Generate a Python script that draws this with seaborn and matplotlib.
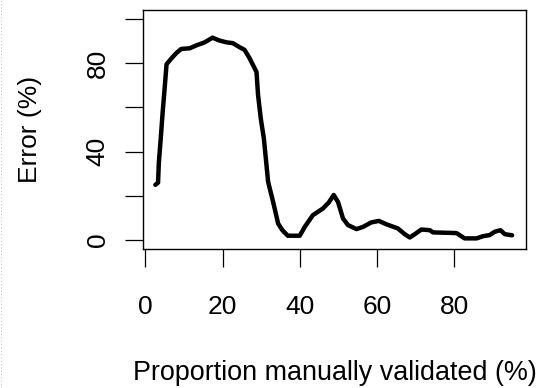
import numpy as np
import pandas as pd
import matplotlib
matplotlib.use('Agg')
import matplotlib.pyplot as plt
from matplotlib.lines import Line2D
import seaborn as sns

# values
proportion = [2.6, 3.3, 3.5, 4.0, 4.5, 5.0, 5.5, 6.7, 8.0, 9.3, 11.5, 13.2, 15.4,
              17.4, 19.2, 21.0, 22.7, 24.4, 25.7, 27.0, 28.8, 29.2, 29.9, 30.7,
              31.3, 31.8, 33.1, 34.4, 35.5, 36.9, 40.0, 41.3, 43.4, 46.0, 47.5,
              48.8, 49.9, 51.2, 52.5, 54.7, 56.4, 58.5, 60.5, 62.4, 65.4, 67.2,
              68.5, 69.8, 71.5, 73.7, 74.5, 80.6, 82.7, 85.8, 87.5, 89.2, 90.5,
              92.0, 93.1, 95.0]
error = [25.0, 26.0, 35.0, 46.0, 58.0, 68.5, 79.5, 82.0, 84.5, 86.4, 86.7, 88.0,
         89.4, 91.5, 90.2, 89.4, 89.0, 87.2, 86.0, 82.2, 76.0, 65.6, 55.0, 46.0,
         35.4, 26.4, 17.3, 7.5, 4.5, 2.0, 2.0, 6.0, 11.3, 14.3, 17.0, 20.4, 17.3,
         9.8, 6.8, 5.0, 6.0, 8.0, 8.7, 7.2, 5.3, 2.7, 1.2, 2.7, 4.8, 4.5, 3.5,
         3.2, 0.8, 0.8, 1.8, 2.3, 3.8, 4.5, 2.7, 2.2]

x_ticks = [0, 20, 40, 60, 80]
x_tick_labels = ['0', '20', '40', '60', '80']
y_ticks = [0, 20, 40, 60, 80, 100]
y_tick_labels = ['0', '', '40', '', '80', '']

df = pd.DataFrame({'proportion': proportion, 'error': error})

sns.set_theme(style='white')
plt.rcParams['font.family'] = ['Liberation Sans', 'DejaVu Sans']

fig = plt.figure(figsize=(5.41, 3.88), dpi=100)
ax = fig.add_axes([143 / 541, (388 - 249) / 388, (526 - 143) / 541, (249 - 10) / 388])

sns.lineplot(data=df, x='proportion', y='error', color='black', linewidth=3.2,
             ax=ax, sort=False)

ax.set_xlim(-0.6, 98.6)
ax.set_ylim(-4, 104)

ax.set_xticks(x_ticks)
ax.set_xticklabels(x_tick_labels)
ax.set_yticks(y_ticks)
ax.set_yticklabels(y_tick_labels)

for side in ['top', 'right', 'bottom', 'left']:
    ax.spines[side].set_visible(True)
    ax.spines[side].set_color('black')
    ax.spines[side].set_linewidth(1.0)

ax.tick_params(axis='both', direction='out', length=13, width=0.9, color='black',
               labelsize=19, labelcolor='black', bottom=True, left=True)
ax.tick_params(axis='x', pad=20)
ax.tick_params(axis='y', pad=11, labelrotation=90)
for lbl in ax.get_yticklabels():
    lbl.set_verticalalignment('center')

ax.set_xlabel('Proportion manually validated (%)', fontsize=19.4, color='black')
ax.set_ylabel('Error (%)', fontsize=19, color='black')
ax.xaxis.set_label_coords(0.5, -0.465)
ax.yaxis.set_label_coords(-0.265, 0.5)

# faint dotted border on the left edge of the screenshot
fig.add_artist(Line2D([0.002, 0.002], [0, 1], transform=fig.transFigure,
                      color='#c8c8c8', linewidth=0.8, linestyle=(0, (1, 2))))

fig.savefig('out.png', dpi=100)
